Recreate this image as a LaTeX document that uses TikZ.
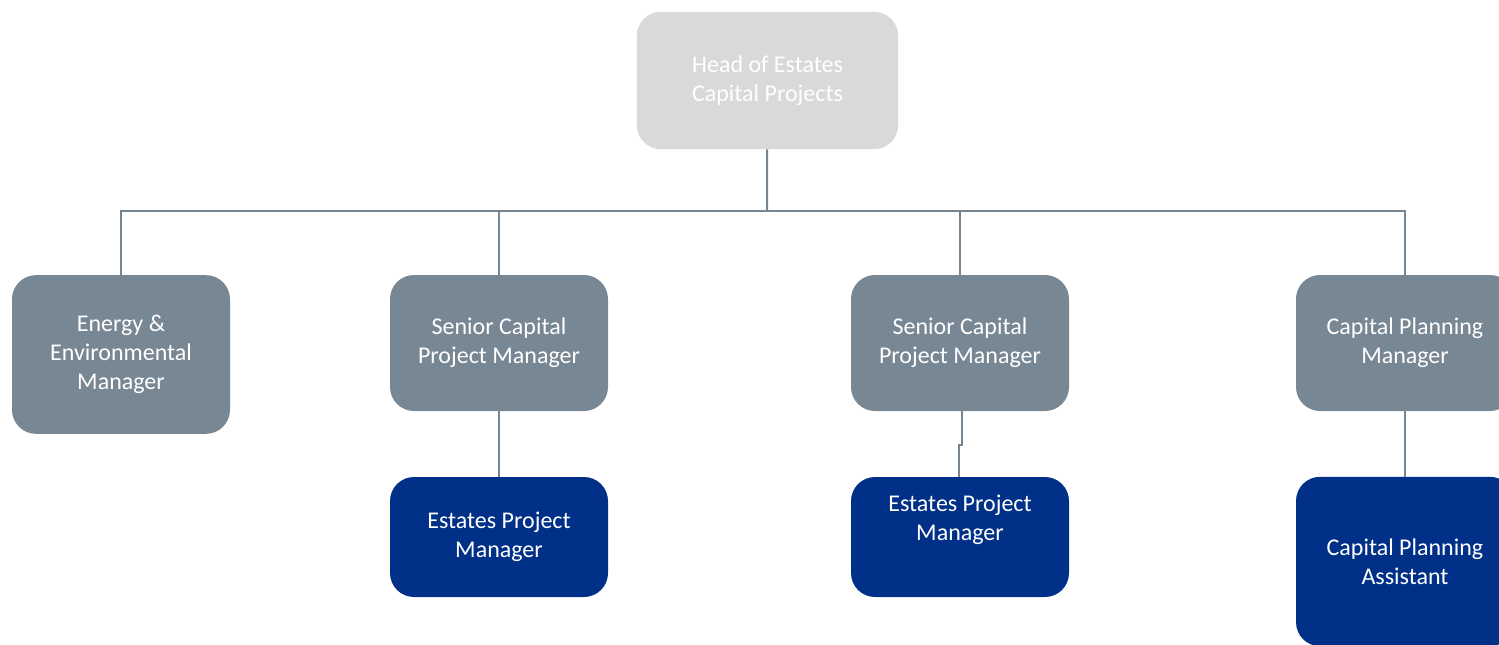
\documentclass[tikz,border=0pt]{standalone}
\usepackage{fontspec}
\setmainfont{Carlito}
\definecolor{headgray}{RGB}{217,217,217}
\definecolor{slate}{RGB}{120,135,148}
\definecolor{navy}{RGB}{0,48,135}
\definecolor{linkgray}{RGB}{118,133,146}
\tikzset{
	box/.style={rectangle, rounded corners=18pt, text=white, align=center, inner sep=0pt,
		minimum width=163.5pt, font=\fontsize{18}{21.75}\selectfont},
	mgr/.style={box, fill=slate, minimum height=102pt},
	staff/.style={box, fill=navy, minimum height=90pt},
	link/.style={draw=linkgray, line width=1.5pt}
}
\begin{document}
\begin{tikzpicture}[x=0.75pt,y=-0.75pt]
	\useasboundingbox (0,0) rectangle (1499,644);
	% top
	\node [box, fill=headgray, minimum width=196pt, minimum height=103pt] (head) at (767.5,80.5) {Head of Estates\\Capital Projects};
	% managers
	\node [mgr, minimum height=119pt] (energy) at (121,354.5) {Energy \&\\Environmental\\Manager};
	\node [mgr] (senior1) at (499,343) {Senior Capital\\Project Manager};
	\node [mgr] (senior2) at (960,343) {Senior Capital\\Project Manager};
	\node [mgr] (planmgr) at (1405,343) {Capital Planning\\Manager};
	% staff
	\node [staff] (estates1) at (499,537) {Estates Project\\Manager};
	\node [staff] (estates2) at (960,537) {Estates Project\\Manager\\[0pt]\strut};
	\node [staff, minimum height=127pt] (planasst) at (1405,561.5) {Capital Planning\\Assistant};
	% lines
	\coordinate (bus) at (767,211);
	\draw [link] (head) -- (bus);
	\draw [link] (energy.north) -- (energy.north |- bus) -- (planmgr.north |- bus) -- (planmgr.north);
	\draw [link] (senior1.north) -- (senior1.north |- bus);
	\draw [link] (senior2.north) -- (senior2.north |- bus);
	\draw [link] (senior1) -- (estates1);
	\draw [link] ([xshift=1.5pt]senior2.south) -- ++(0,34) -| ([xshift=-0.75pt]estates2.north);
	\draw [link] (planmgr) -- (planasst);
\end{tikzpicture}
\end{document}
